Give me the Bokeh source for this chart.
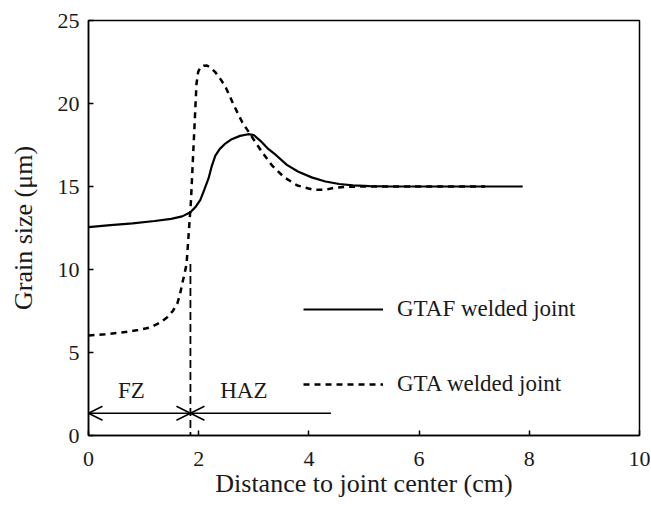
from bokeh.plotting import figure
from bokeh.models import Range1d, FixedTicker, Arrow, OpenHead, Legend, LegendItem, ColumnDataSource
from bokeh.core.properties import value
from bokeh.embed import file_html
from bokeh.resources import INLINE

# ---- data ----
gtaf_x = [0.0, 0.4, 0.8, 1.2, 1.5, 1.7, 1.85, 1.95, 2.03, 2.1, 2.18, 2.23, 2.3, 2.38, 2.47, 2.6, 2.75,
          2.9, 3.0, 3.12, 3.25, 3.4, 3.6, 3.8, 4.05, 4.3, 4.55, 4.8, 5.1, 5.5, 6.0, 7.0, 7.88]
gtaf_y = [12.55, 12.67, 12.78, 12.92, 13.05, 13.2, 13.45, 13.8, 14.2, 14.8, 15.5, 16.15, 16.85, 17.25, 17.55, 17.85, 18.05,
          18.15, 18.1, 17.75, 17.3, 16.9, 16.3, 15.9, 15.55, 15.3, 15.15, 15.07, 15.02, 15.0, 15.0, 15.0, 15.0]

gta_x = [0.0, 0.3, 0.6, 0.9, 1.13, 1.3, 1.43, 1.53, 1.61, 1.66, 1.70, 1.74, 1.78, 1.81, 1.84, 1.86, 1.88,
         1.9, 1.92, 1.94, 1.96, 1.99, 2.03, 2.09, 2.15, 2.22, 2.3, 2.4, 2.49, 2.64, 2.79, 2.97, 3.15, 3.33,
         3.55, 3.79, 4.09, 4.3, 4.45, 4.69, 5.0, 5.5, 6.0, 7.2]
gta_y = [6.02, 6.1, 6.2, 6.35, 6.52, 6.8, 7.13, 7.5, 7.93, 8.5, 9.14, 9.7, 10.34, 11.75, 13.2, 14.16, 15.56,
         17.0, 18.37, 19.8, 21.19, 21.9, 22.19, 22.28, 22.29, 22.15, 21.89, 21.45, 20.98, 19.88, 18.87, 17.97, 17.07, 16.27,
         15.56, 15.06, 14.8, 14.8, 14.92, 14.98, 15.0, 15.0, 15.0, 15.0]

series_names = ["GTAF welded joint", "GTA welded joint"]
zone_labels = ["FZ", "HAZ"]
zone_label_x = [0.78, 2.82]
zone_label_y = [2.7, 2.7]
boundary_x = 1.85          # FZ / HAZ boundary
haz_end_x = 4.4
arrow_y = 1.34

x_ticks = [0, 2, 4, 6, 8, 10]
y_ticks = [0, 5, 10, 15, 20, 25]

FONT = "Liberation Serif"

p = figure(width=651, height=510, output_backend="svg", toolbar_location=None,
           x_range=Range1d(0, 10), y_range=Range1d(0, 25),
           min_border_left=88, min_border_right=12, min_border_top=20, min_border_bottom=75)
p.background_fill_color = "white"
p.border_fill_color = "white"
p.outline_line_color = "black"
p.outline_line_width = 1.5
p.xgrid.visible = False
p.ygrid.visible = False

p.xaxis.ticker = FixedTicker(ticks=x_ticks)
p.yaxis.ticker = FixedTicker(ticks=y_ticks)
for ax in (p.xaxis[0], p.yaxis[0]):
    ax.minor_tick_line_color = None
    ax.major_tick_in = 5
    ax.major_tick_out = 0
    ax.major_tick_line_width = 1.5
    ax.axis_line_width = 1.5
    ax.axis_line_color = "black"
    ax.major_tick_line_color = "black"
    ax.major_label_text_font = FONT
    ax.major_label_text_font_size = "22px"
    ax.major_label_text_color = "#1a1a1a"
    ax.axis_label_text_font = FONT
    ax.axis_label_text_font_size = "26px"
    ax.axis_label_text_font_style = "normal"
    ax.axis_label_text_color = "#1a1a1a"

p.xaxis.axis_label = "Distance to joint center (cm)"
p.yaxis.axis_label = "Grain size (\u03bcm)"
p.xaxis.major_label_standoff = 16
p.yaxis.major_label_standoff = 9
p.xaxis.axis_label_standoff = 0
p.yaxis.axis_label_standoff = 17

# boundary line
p.line(x=[boundary_x, boundary_x], y=[-1, 10.5], line_color="black", line_width=1.8, line_dash="8 4")

r1 = p.line(gtaf_x, gtaf_y, line_color="black", line_width=2.2)
r2 = p.line(gta_x, gta_y, line_color="black", line_width=2.5, line_dash="6 5")

# zone arrows
head = dict(size=14, line_width=1.5)
p.add_layout(Arrow(start=OpenHead(**head), end=OpenHead(**head),
                   x_start=0, y_start=arrow_y, x_end=boundary_x, y_end=arrow_y,
                   line_width=1.5, line_color="black"))
p.add_layout(Arrow(start=None, end=OpenHead(**head),
                   x_start=haz_end_x, y_start=arrow_y, x_end=boundary_x, y_end=arrow_y,
                   line_width=1.5, line_color="black"))

src = ColumnDataSource(dict(x=zone_label_x, y=zone_label_y, t=zone_labels))
p.text(x="x", y="y", text="t", source=src, text_font=value(FONT), text_font_size="23px",
       text_align="center", text_baseline="middle", text_color="#1a1a1a")

legend = Legend(items=[LegendItem(label=series_names[0], renderers=[r1]),
                       LegendItem(label=series_names[1], renderers=[r2])],
                location=(215, 38), orientation="vertical",
                glyph_width=80, glyph_height=24, label_height=24, label_standoff=14,
                spacing=49, padding=0, margin=0,
                label_text_font=FONT, label_text_font_size="23px", label_text_color="#1a1a1a",
                border_line_alpha=0, background_fill_alpha=0)
p.add_layout(legend)

open("out.html", "w").write(file_html(p, INLINE))
